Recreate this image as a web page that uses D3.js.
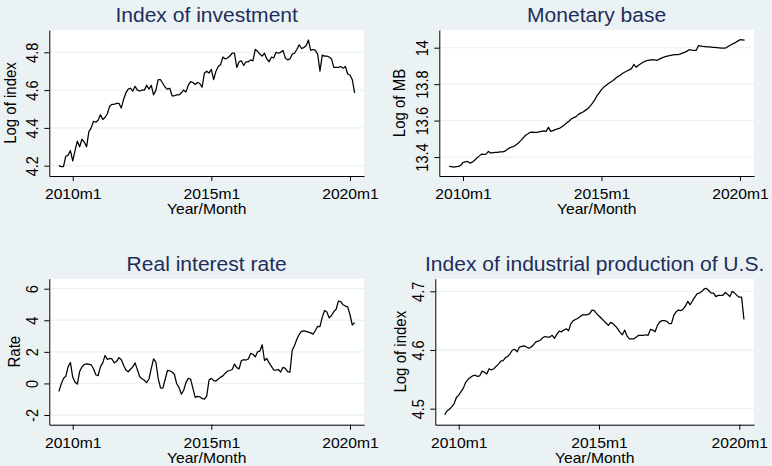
<!DOCTYPE html>
<html><head><meta charset="utf-8">
<script src="https://cdn.jsdelivr.net/npm/d3@7"></script>
<style>
html,body{margin:0;padding:0;background:#eaf2f3;}
svg{display:block;font-family:"Liberation Sans",Arial,sans-serif;}
</style></head><body>
<svg id="chart" width="772" height="466"></svg>
<script>
// ---- data (monthly, 2009m7 .. 2020m3) ----
const startMonth = 594; // Stata monthly date: 2009m7
const investment = [4.200,4.195,4.195,4.250,4.255,4.280,4.225,4.280,4.330,4.300,4.340,4.325,4.300,4.380,4.400,4.435,4.430,4.440,4.470,4.445,4.455,4.475,4.515,4.525,4.525,4.530,4.530,4.505,4.550,4.585,4.605,4.610,4.595,4.620,4.600,4.595,4.600,4.600,4.625,4.605,4.625,4.575,4.600,4.655,4.655,4.635,4.615,4.605,4.610,4.570,4.570,4.575,4.575,4.585,4.600,4.590,4.625,4.645,4.640,4.630,4.640,4.635,4.615,4.690,4.700,4.690,4.710,4.655,4.700,4.725,4.735,4.775,4.765,4.770,4.780,4.795,4.795,4.720,4.750,4.755,4.730,4.750,4.750,4.760,4.755,4.815,4.805,4.790,4.780,4.795,4.765,4.750,4.775,4.770,4.800,4.795,4.800,4.810,4.770,4.760,4.765,4.790,4.795,4.815,4.840,4.820,4.825,4.835,4.865,4.810,4.815,4.810,4.790,4.700,4.785,4.780,4.780,4.775,4.765,4.720,4.720,4.720,4.725,4.715,4.725,4.685,4.680,4.655,4.585];
const monetaryBase = [13.349,13.347,13.345,13.347,13.349,13.354,13.370,13.374,13.376,13.367,13.372,13.382,13.395,13.405,13.416,13.414,13.416,13.431,13.422,13.424,13.425,13.426,13.428,13.429,13.431,13.440,13.449,13.454,13.458,13.468,13.477,13.490,13.504,13.518,13.526,13.535,13.537,13.536,13.535,13.538,13.541,13.544,13.541,13.563,13.541,13.545,13.550,13.555,13.559,13.568,13.577,13.588,13.598,13.610,13.616,13.622,13.634,13.641,13.647,13.656,13.665,13.678,13.694,13.712,13.735,13.752,13.770,13.784,13.793,13.803,13.812,13.820,13.831,13.840,13.848,13.858,13.865,13.872,13.878,13.885,13.908,13.893,13.904,13.912,13.920,13.926,13.930,13.932,13.934,13.933,13.930,13.937,13.943,13.948,13.952,13.955,13.958,13.960,13.962,13.962,13.965,13.970,13.974,13.981,13.989,13.986,13.985,13.985,14.011,14.009,14.007,14.006,14.005,14.004,14.002,14.001,14.000,13.999,13.998,13.998,13.999,14.008,14.015,14.022,14.028,14.036,14.044,14.043,14.042];
const realRate = [-0.51,-0.05,0.32,0.45,1.05,1.33,0.40,0.08,-0.04,0.75,1.05,1.20,1.24,1.22,1.18,0.93,0.55,0.49,1.05,1.30,1.77,1.52,1.58,1.55,1.30,1.40,1.63,1.52,1.15,0.85,0.74,0.90,1.05,1.30,0.86,0.42,0.30,0.20,0.05,0.28,0.95,1.55,1.35,0.30,-0.28,-0.30,0.25,0.82,0.80,0.72,0.58,-0.02,-0.25,-0.68,-0.45,0.05,0.32,0.28,-0.30,-0.88,-0.82,-0.85,-0.95,-1.00,-0.80,0.22,0.32,0.18,0.15,0.28,0.40,0.48,0.65,0.78,0.82,0.88,1.22,1.00,0.92,1.45,1.50,1.48,1.55,1.90,1.85,1.68,2.00,2.05,2.45,1.45,1.58,1.30,1.08,0.85,0.85,0.88,0.72,1.02,0.95,0.75,0.72,2.10,2.40,2.80,3.10,3.30,3.33,3.30,3.25,3.20,3.12,3.35,3.62,3.60,4.20,4.62,4.52,4.15,4.30,4.55,4.70,5.22,5.18,4.98,4.90,4.85,4.35,3.70,3.85];
const industrial = [4.490,4.496,4.499,4.503,4.508,4.519,4.523,4.529,4.535,4.545,4.550,4.553,4.556,4.557,4.555,4.556,4.564,4.562,4.559,4.568,4.566,4.568,4.572,4.576,4.581,4.582,4.587,4.589,4.594,4.600,4.601,4.597,4.605,4.606,4.607,4.605,4.603,4.605,4.609,4.614,4.615,4.617,4.621,4.623,4.622,4.622,4.625,4.620,4.627,4.632,4.631,4.634,4.636,4.633,4.645,4.650,4.652,4.654,4.657,4.660,4.660,4.660,4.662,4.668,4.667,4.662,4.658,4.654,4.650,4.646,4.642,4.647,4.645,4.641,4.636,4.630,4.626,4.634,4.624,4.619,4.619,4.619,4.622,4.625,4.625,4.625,4.626,4.625,4.635,4.634,4.631,4.642,4.648,4.650,4.650,4.649,4.645,4.645,4.659,4.665,4.668,4.667,4.670,4.675,4.683,4.677,4.684,4.690,4.696,4.697,4.700,4.704,4.705,4.701,4.697,4.697,4.691,4.693,4.693,4.693,4.698,4.695,4.691,4.700,4.697,4.693,4.690,4.690,4.652];

const xTickValues = [600, 660, 720];
const xTickLabels = ["2010m1", "2015m1", "2020m1"];
const investTicks = [4.2, 4.4, 4.6, 4.8];
const mbTicks = [13.4, 13.6, 13.8, 14];
const rateTicks = [-2, 0, 2, 4, 6];
const indTicks = [4.5, 4.6, 4.7];

const titles = ["Index of investment", "Monetary base", "Real interest rate", "Index of industrial production of U.S."];
const yTitles = ["Log of index", "Log of MB", "Rate", "Log of index"];
const xTitle = "Year/Month";

// ---- layout ----
const panels = [
  {data: investment, ticks: investTicks, title: titles[0], ytitle: yTitles[0],
   L: 49.3, R: 364, T: 30, B: 176, xdom: [589.87, 726.06], ydom: [4.1455, 4.918], ytx: 15.5},
  {data: monetaryBase, ticks: mbTicks, title: titles[1], ytitle: yTitles[1],
   L: 439.3, R: 754, T: 30, B: 176, xdom: [589.73, 726.07], ydom: [13.296, 14.097], ytx: 404.5},
  {data: realRate, ticks: rateTicks, title: titles[2], ytitle: yTitles[2],
   L: 49.3, R: 364, T: 278.7, B: 424.7, xdom: [589.87, 726.06], ydom: [-2.614, 6.633], ytx: 19.5},
  {data: industrial, ticks: indTicks, title: titles[3], ytitle: yTitles[3],
   L: 435.3, R: 754, T: 278.7, B: 424.7, xdom: [589.99, 726.3], ydom: [4.4727, 4.7215], ytx: 405.5}
];

const svg = d3.select("#chart");
svg.append("rect").attr("width", 772).attr("height", 466).attr("fill", "#eaf2f3");

const titleColor = "#1e2d5c";
const sx = 1.08;
const FONT = "Liberation Sans, Arial, sans-serif";

panels.forEach(p => {
  const x = d3.scaleLinear().domain(p.xdom).range([p.L, p.R]);
  const y = d3.scaleLinear().domain(p.ydom).range([p.B, p.T]);
  const g = svg.append("g");

  g.append("rect").attr("x", p.L).attr("y", p.T)
    .attr("width", p.R - p.L).attr("height", p.B - p.T).attr("fill", "#ffffff");

  // gridlines
  g.append("g").selectAll("line").data(p.ticks).join("line")
    .attr("x1", p.L).attr("x2", p.R)
    .attr("y1", d => y(d)).attr("y2", d => y(d))
    .attr("stroke", "#eaf2f3").attr("stroke-width", 1.3);

  // series line
  const line = d3.line().x((d, i) => x(startMonth + i)).y(d => y(d));
  g.append("path").datum(p.data).attr("d", line)
    .attr("fill", "none").attr("stroke", "#000").attr("stroke-width", 1.25)
    .attr("stroke-linejoin", "round");

  // x axis
  const xa = g.append("g").attr("transform", `translate(0,${p.B})`)
    .call(d3.axisBottom(x).tickValues(xTickValues)
      .tickFormat((d, i) => xTickLabels[i]).tickSize(5).tickSizeOuter(0));
  xa.select(".domain").attr("stroke", "#000");
  xa.selectAll(".tick line").attr("stroke", "#000");
  xa.selectAll(".tick text").attr("y", null).attr("dy", null)
    .attr("transform", `translate(0,23) scale(${sx},1)`)
    .attr("font-size", 14.5).attr("fill", "#000").attr("font-family", FONT);

  // y axis
  const ya = g.append("g").attr("transform", `translate(${p.L},0)`)
    .call(d3.axisLeft(y).tickValues(p.ticks).tickFormat(d => String(d))
      .tickSize(5).tickSizeOuter(0));
  ya.select(".domain").attr("stroke", "#000");
  ya.selectAll(".tick line").attr("stroke", "#000");
  ya.selectAll(".tick text").attr("x", null).attr("dy", null)
    .attr("text-anchor", "middle")
    .attr("transform", `translate(-11,0) rotate(-90) scale(1,${sx})`)
    .attr("font-size", 14.5).attr("fill", "#000").attr("font-family", FONT);

  // titles
  const cx = (p.L + p.R) / 2;
  const cy = (p.T + p.B) / 2;
  g.append("text").attr("text-anchor", "middle")
    .attr("transform", `translate(${cx},${p.T - 8}) scale(${sx},1)`)
    .attr("font-size", 19.5).attr("fill", titleColor).text(p.title);
  g.append("text").attr("text-anchor", "middle")
    .attr("transform", `translate(${cx},${p.B + 38}) scale(${sx},1)`)
    .attr("font-size", 14.5).attr("fill", "#000").text(xTitle);
  g.append("text").attr("text-anchor", "middle")
    .attr("transform", `translate(${p.ytx},${cy}) rotate(-90) scale(1,${sx})`)
    .attr("font-size", 15).attr("fill", "#000").text(p.ytitle);
});
</script>
</body></html>
